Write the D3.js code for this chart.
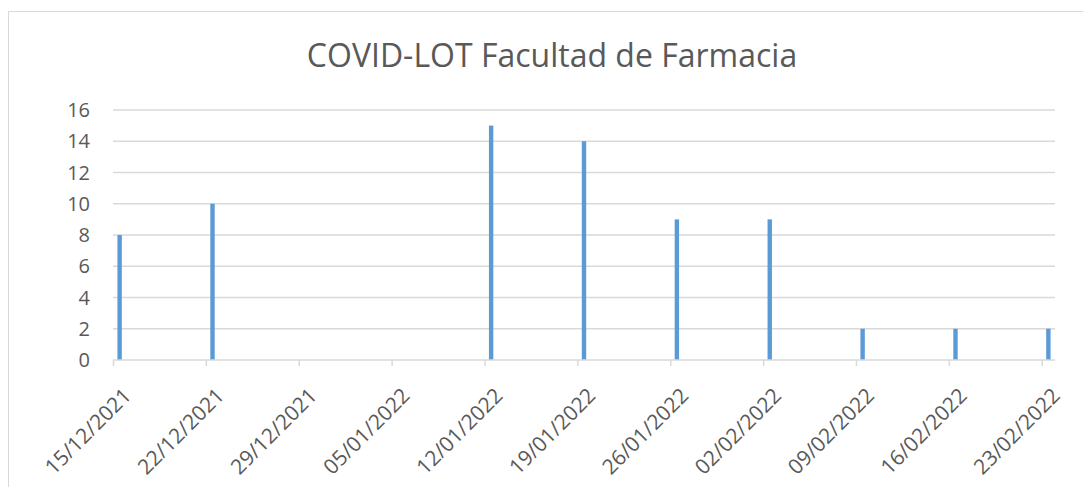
<!DOCTYPE html>
<html>
<head>
<meta charset="utf-8">
<script src="https://cdn.jsdelivr.net/npm/d3@7"></script>
<style>
  body { margin: 0; background: #fff; }
  svg text { font-family: "Open Sans", sans-serif; fill: #595959; }
</style>
</head>
<body>
<div class="chart"></div>
<script>
// COVID-LOT weekly counts, Facultad de Farmacia
const title = "COVID-LOT Facultad de Farmacia";
const dates = ["2021-12-15", "2021-12-22", "2022-01-12", "2022-01-19", "2022-01-26",
               "2022-02-02", "2022-02-09", "2022-02-16", "2022-02-23"];
const counts = [8, 10, 15, 14, 9, 9, 2, 2, 2];
const tickDates = ["2021-12-15", "2021-12-22", "2021-12-29", "2022-01-05", "2022-01-12",
                   "2022-01-19", "2022-01-26", "2022-02-02", "2022-02-09", "2022-02-16", "2022-02-23"];
const yTicks = [0, 2, 4, 6, 8, 10, 12, 14, 16];

const width = 1083, height = 487;
const parse = d3.utcParse("%Y-%m-%d");
const fmt = d3.utcFormat("%d/%m/%Y");

const svg = d3.select(".chart").append("svg")
    .attr("width", width)
    .attr("height", height);

// chart frame
svg.append("rect")
    .attr("x", 8.5).attr("y", 11.5)
    .attr("width", 1100).attr("height", 500)
    .attr("fill", "none")
    .attr("stroke", "#d9d9d9")
    .attr("stroke-width", 1);

const x = d3.scaleUtc()
    .domain([parse("2021-12-15"), d3.utcDay.offset(parse("2022-02-23"), 1)])
    .range([113, 1055]);

const y = d3.scaleLinear()
    .domain([0, 16])
    .range([360, 110]);

// gridlines
svg.append("g")
    .selectAll("line")
    .data(yTicks.filter(d => d > 0))
    .join("line")
    .attr("x1", x.range()[0]).attr("x2", x.range()[1])
    .attr("y1", d => y(d)).attr("y2", d => y(d))
    .attr("stroke", "#d9d9d9")
    .attr("stroke-width", 1.3);

// y labels
svg.append("g")
    .selectAll("text")
    .data(yTicks)
    .join("text")
    .attr("x", 90)
    .attr("y", d => y(d))
    .attr("dy", "0.35em")
    .attr("text-anchor", "end")
    .style("font-size", "20px")
    .text(d => d);

// bars, centred in their day slot
const dayW = x(d3.utcDay.offset(x.domain()[0], 1)) - x(x.domain()[0]);
const barW = 4.4;
svg.append("g")
    .selectAll("rect")
    .data(dates.map((d, i) => ({date: parse(d), value: counts[i]})))
    .join("rect")
    .attr("x", d => x(d.date) + dayW / 2 - barW / 2)
    .attr("y", d => y(d.value))
    .attr("width", barW)
    .attr("height", d => y(0) - y(d.value))
    .attr("fill", "#5b9bd5");

// x axis
const xAxis = d3.axisBottom(x)
    .tickValues(tickDates.map(parse))
    .tickSize(6)
    .tickFormat(fmt);

const ax = svg.append("g")
    .attr("transform", `translate(0,${y(0)})`)
    .call(xAxis);

ax.select(".domain")
    .attr("stroke", "#d9d9d9")
    .attr("stroke-width", 1.5)
    .attr("d", `M${x.range()[0]},0H${x.range()[1]}`);
ax.selectAll(".tick line")
    .attr("stroke", "#d9d9d9")
    .attr("stroke-width", 1.5);
ax.selectAll(".tick text")
    .attr("x", 0).attr("y", 0).attr("dy", 0)
    .attr("text-anchor", "end")
    .attr("transform", "translate(19,37) rotate(-45)")
    .style("font-size", "21px")
    .style("font-family", "'Open Sans', sans-serif")
    .attr("fill", "#595959");

// title
svg.append("text")
    .attr("x", 552)
    .attr("y", 67)
    .attr("text-anchor", "middle")
    .style("font-size", "32px")
    .text(title);
</script>
</body>
</html>
